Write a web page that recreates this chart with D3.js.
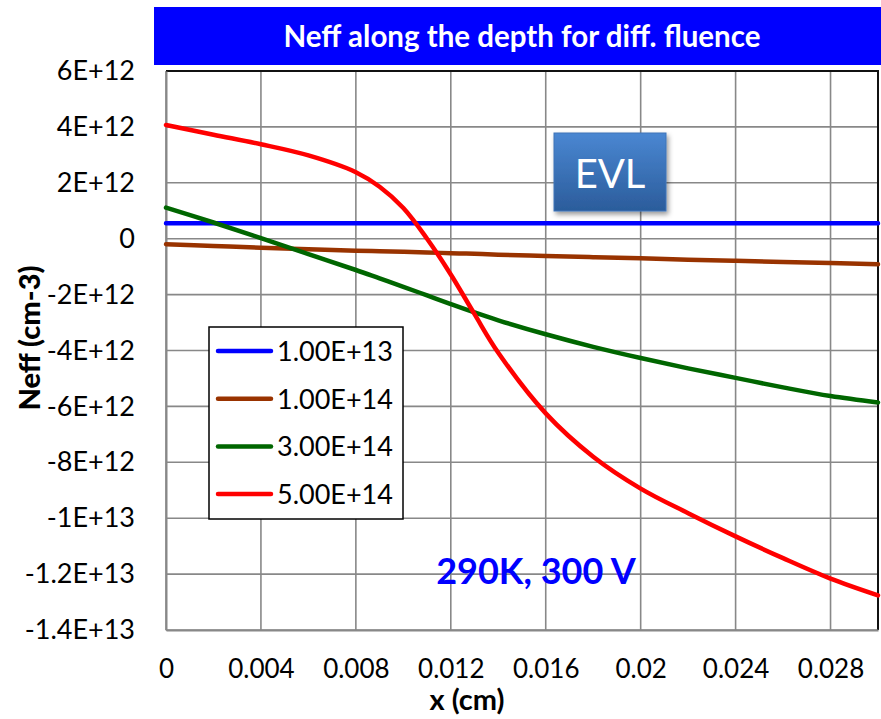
<!DOCTYPE html>
<html>
<head>
<meta charset="utf-8">
<script src="https://cdn.jsdelivr.net/npm/d3@7"></script>
<style>
  html, body { margin: 0; padding: 0; background: #fff; }
  svg { display: block; font-family: Lato, "Noto Sans", sans-serif; }
</style>
</head>
<body>
<svg id="chart" width="881" height="719"></svg>
<script>
// ---- data ----
const xValues = [0, 0.002, 0.004, 0.006, 0.008, 0.009, 0.010, 0.011, 0.012, 0.013, 0.014, 0.016, 0.018, 0.020, 0.022, 0.024, 0.026, 0.028, 0.030];
const seriesNames = ["1.00E+13", "1.00E+14", "3.00E+14", "5.00E+14"];
const seriesColors = ["#0000FF", "#993300", "#006600", "#FF0000"];
const neff1e13 = [0.55e12, 0.55e12, 0.55e12, 0.55e12, 0.55e12, 0.55e12, 0.55e12, 0.55e12, 0.55e12, 0.55e12, 0.55e12, 0.55e12, 0.55e12, 0.55e12, 0.55e12, 0.55e12, 0.55e12, 0.55e12, 0.55e12];
const neff1e14 = [-0.20e12, -0.26e12, -0.32e12, -0.38e12, -0.43e12, -0.45e12, -0.47e12, -0.49e12, -0.52e12, -0.54e12, -0.57e12, -0.62e12, -0.66e12, -0.70e12, -0.75e12, -0.79e12, -0.83e12, -0.87e12, -0.91e12];
const neff3e14 = [1.11e12, 0.58e12, 0.02e12, -0.55e12, -1.12e12, -1.42e12, -1.72e12, -2.03e12, -2.34e12, -2.64e12, -2.92e12, -3.42e12, -3.87e12, -4.27e12, -4.64e12, -4.98e12, -5.32e12, -5.63e12, -5.86e12];
const neff5e14 = [4.07e12, 3.72e12, 3.38e12, 2.98e12, 2.38e12, 1.86e12, 1.10e12, 0.00e12, -1.28e12, -2.70e12, -4.08e12, -6.25e12, -7.80e12, -8.94e12, -9.82e12, -10.65e12, -11.43e12, -12.16e12, -12.76e12];
const xTicks = [0, 0.004, 0.008, 0.012, 0.016, 0.02, 0.024, 0.028];
const xTickLabels = ["0", "0.004", "0.008", "0.012", "0.016", "0.02", "0.024", "0.028"];
const yTicks = [6e12, 4e12, 2e12, 0, -2e12, -4e12, -6e12, -8e12, -1e13, -1.2e13, -1.4e13];
const yTickLabels = ["6E+12", "4E+12", "2E+12", "0", "-2E+12", "-4E+12", "-6E+12", "-8E+12", "-1E+13", "-1.2E+13", "-1.4E+13"];
const titleText = "Neff along the depth for diff. fluence";
const xTitle = "x (cm)";
const yTitle = "Neff (cm-3)";
const noteText = "290K, 300 V";
const boxText = "EVL";

const seriesValues = [neff1e13, neff1e14, neff3e14, neff5e14];

// ---- layout ----
const svg = d3.select("#chart");
const plot = { left: 166, right: 878, top: 71, bottom: 630 };
const x = d3.scaleLinear().domain([0, 0.03]).range([plot.left, plot.right]);
const y = d3.scaleLinear().domain([-1.4e13, 6e12]).range([plot.bottom, plot.top]);

// title bar
svg.append("rect").attr("x", 154).attr("y", 7).attr("width", 727).attr("height", 58).attr("fill", "#0000FF");
svg.append("text").attr("x", 522).attr("y", 47).attr("text-anchor", "middle")
  .attr("fill", "#fff").attr("font-weight", 700).attr("font-size", 29.5).text(titleText);

// gridlines
const grid = svg.append("g");
grid.selectAll("line.h").data(yTicks).join("line")
  .attr("x1", plot.left).attr("x2", plot.right)
  .attr("y1", d => y(d)).attr("y2", d => y(d))
  .attr("stroke", "#888").attr("stroke-width", 1.6);
grid.selectAll("line.v").data(xTicks).join("line")
  .attr("y1", plot.top).attr("y2", plot.bottom)
  .attr("x1", d => x(d)).attr("x2", d => x(d))
  .attr("stroke", "#888").attr("stroke-width", 1.6);

// border (top/right black)
svg.append("path")
  .attr("d", `M${plot.left},${plot.top}H${plot.right}V${plot.bottom}`)
  .attr("fill", "none").attr("stroke", "#111").attr("stroke-width", 2);

// axes
const yAxis = d3.axisLeft(y).tickValues(yTicks).tickSize(0).tickPadding(31)
  .tickFormat((d, i) => yTickLabels[i]);
const gy = svg.append("g").attr("transform", `translate(${plot.left},0)`).call(yAxis);
gy.select(".domain").attr("stroke", "#888").attr("stroke-width", 2);
gy.selectAll("text").attr("font-size", 27).attr("fill", "#000").attr("font-family", "Lato");

const xAxis = d3.axisBottom(x).tickValues(xTicks).tickSize(0).tickPadding(30)
  .tickFormat((d, i) => xTickLabels[i]);
const gx = svg.append("g").attr("transform", `translate(0,${plot.bottom})`).call(xAxis);
gx.select(".domain").attr("stroke", "#888").attr("stroke-width", 2);
gx.selectAll("text").attr("font-size", 26).attr("fill", "#000").attr("font-family", "Lato");

// axis titles
svg.append("text").attr("x", 467).attr("y", 710).attr("text-anchor", "middle")
  .attr("font-weight", 700).attr("font-size", 29).text(xTitle);
svg.append("text").attr("transform", "translate(40,338) rotate(-90)").attr("text-anchor", "middle")
  .attr("font-weight", 900).attr("font-size", 29).text(yTitle);

// lines
const line = d3.line().x((d, i) => x(xValues[i])).y(d => y(d)).curve(d3.curveCatmullRom.alpha(0.5));
const linesG = svg.append("g");
seriesValues.forEach((vals, k) => {
  linesG.append("path").datum(vals).attr("d", line)
    .attr("fill", "none").attr("stroke", seriesColors[k]).attr("stroke-width", 4.5)
    .attr("stroke-linecap", "round").attr("stroke-linejoin", "round");
});

// legend
const lg = svg.append("g");
lg.append("rect").attr("x", 209).attr("y", 327).attr("width", 194).attr("height", 192)
  .attr("fill", "#fff").attr("stroke", "#000").attr("stroke-width", 1.5);
seriesNames.forEach((name, k) => {
  const yy = 351 + k * 47.7;
  lg.append("line").attr("x1", 218).attr("x2", 271).attr("y1", yy).attr("y2", yy)
    .attr("stroke", seriesColors[k]).attr("stroke-width", 4.5).attr("stroke-linecap", "round");
  lg.append("text").attr("x", 277).attr("y", yy + 10).attr("font-size", 27).attr("fill", "#000").text(name);
});

// EVL box
const defs = svg.append("defs");
const grad = defs.append("linearGradient").attr("id", "evlGrad").attr("x1", 0).attr("y1", 0).attr("x2", 0).attr("y2", 1);
grad.append("stop").attr("offset", "0%").attr("stop-color", "#4a87d2");
grad.append("stop").attr("offset", "100%").attr("stop-color", "#2b5c9b");
const filt = defs.append("filter").attr("id", "shadow").attr("x", "-20%").attr("y", "-20%").attr("width", "150%").attr("height", "150%");
filt.append("feDropShadow").attr("dx", 2).attr("dy", 3).attr("stdDeviation", 2.5).attr("flood-color", "#000").attr("flood-opacity", 0.4);
svg.append("rect").attr("x", 554).attr("y", 133).attr("width", 112).attr("height", 78)
  .attr("fill", "url(#evlGrad)").attr("stroke", "#3f74b8").attr("stroke-width", 1).attr("filter", "url(#shadow)");
svg.append("text").attr("x", 610).attr("y", 188).attr("text-anchor", "middle")
  .attr("fill", "#fff").attr("font-size", 40).text(boxText);

// annotation
svg.append("text").attr("x", 536).attr("y", 584).attr("text-anchor", "middle")
  .attr("fill", "#0000FF").attr("font-weight", 700).attr("font-size", 36).text(noteText);
</script>
</body>
</html>
